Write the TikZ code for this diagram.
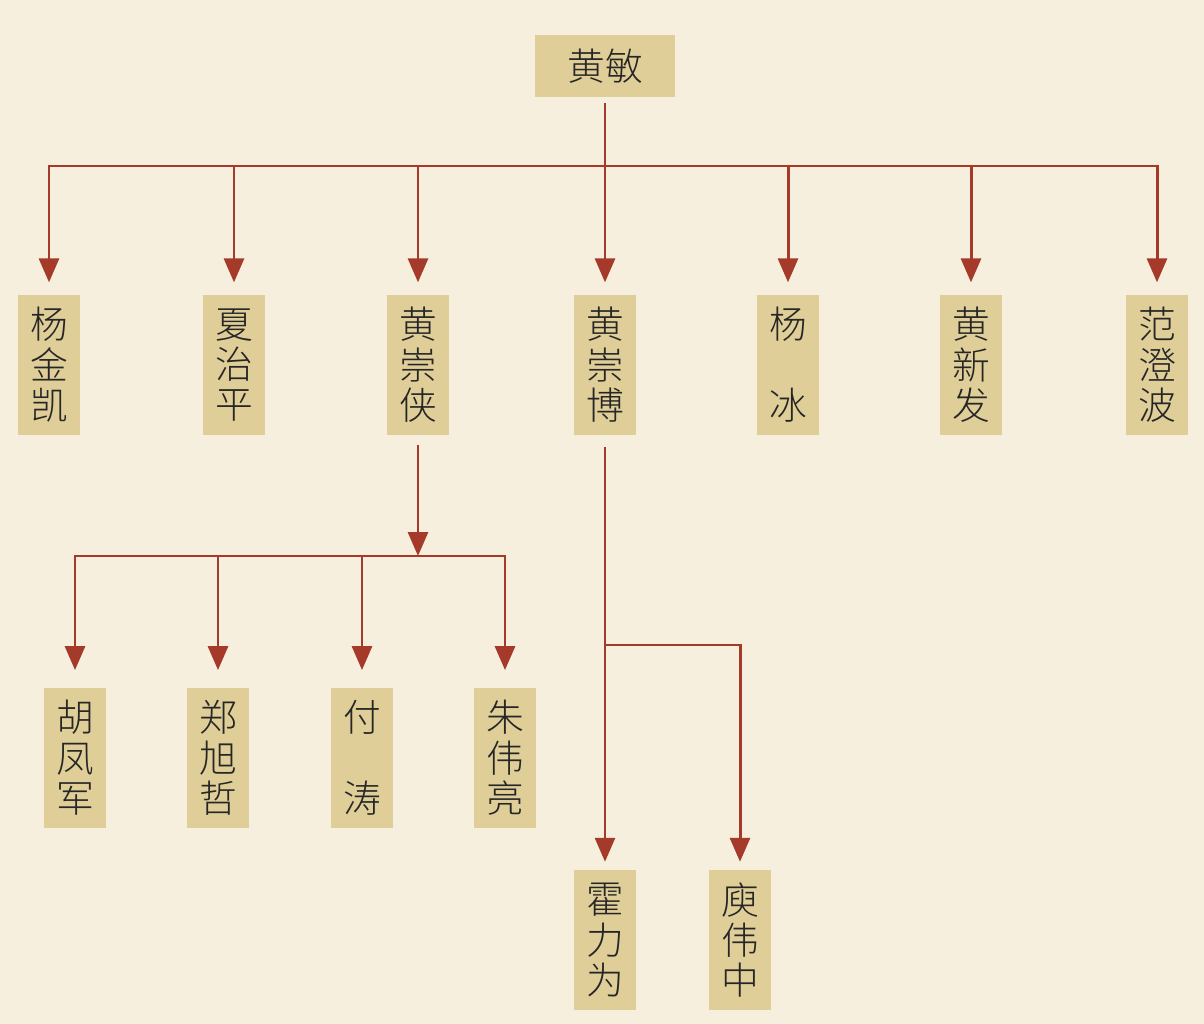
\documentclass[tikz,border=0pt]{standalone}
\usepackage{fontspec}
\newfontfamily\cjk{Noto Sans CJK SC Light}
\usetikzlibrary{arrows.meta}
\definecolor{paper}{HTML}{F7EFDD}
\definecolor{boxtan}{HTML}{DFCE98}
\definecolor{rust}{HTML}{A53A2A}
\begin{document}
\begin{tikzpicture}[x=0.02cm,y=-0.02cm,
    person/.style={fill=boxtan,inner sep=0pt,minimum width=1.24cm,minimum height=2.8cm,
      align=center,text=black!85,font=\cjk\fontsize{21.5}{23}\selectfont},
    link/.style={rust,line width=1.7pt},
    arrow/.style={link,-{Triangle[length=0.48cm,width=0.4cm]}}]
    % paper
    \fill[paper] (0,0) rectangle (1204,1024);
    % people
    \node[person,minimum width=2.8cm,minimum height=1.24cm] (root) at (605,66) {黄敏};
    \node[person] (c1) at (49,365) {杨\\金\\凯};
    \node[person] (c2) at (234,365) {夏\\治\\平};
    \node[person] (c3) at (418,365) {黄\\崇\\侠};
    \node[person] (c4) at (605,365) {黄\\崇\\博};
    \node[person] (c5) at (788,365) {杨\\~\\冰};
    \node[person] (c6) at (971,365) {黄\\新\\发};
    \node[person] (c7) at (1157,365) {范\\澄\\波};
    \node[person] (g1) at (75,758) {胡\\凤\\军};
    \node[person] (g2) at (218,758) {郑\\旭\\哲};
    \node[person] (g3) at (362,758) {付\\~\\涛};
    \node[person] (g4) at (505,758) {朱\\伟\\亮};
    \node[person] (h1) at (605,940) {霍\\力\\为};
    \node[person] (h2) at (740,940) {庾\\伟\\中};
    % branch points
    \coordinate (b0) at (605,166);
    \coordinate (b3) at (418,556);
    \coordinate (b4) at (605,645);
    % first generation
    \draw[link,shorten <=3.4pt] (root) -- (b0);
    \foreach \c in {c1,c2,c3,c4,c5,c6,c7}
      \draw[arrow,shorten >=7pt] (b0) -| (\c.north);
    % children of huang chongxia
    \draw[arrow,shorten <=5.7pt] (c3) -- (b3);
    \foreach \c in {g1,g2,g3,g4}
      \draw[arrow,shorten >=10pt] (b3) -| (\c.north);
    % children of huang chongbo
    \draw[arrow,shorten <=6.8pt,shorten >=4.5pt] (c4) -- (h1);
    \draw[arrow,shorten >=4.5pt] (b4) -| (h2.north);
\end{tikzpicture}
\end{document}
